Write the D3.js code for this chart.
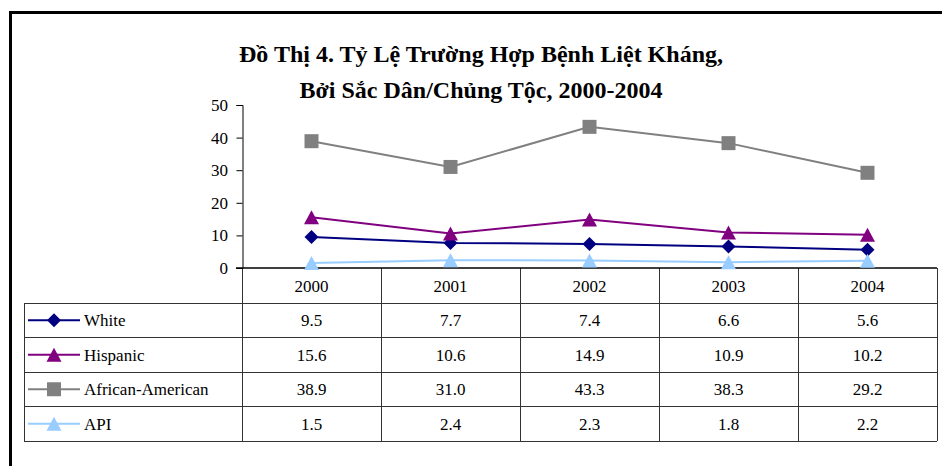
<!DOCTYPE html>
<html>
<head>
<meta charset="utf-8">
<script src="https://cdn.jsdelivr.net/npm/d3@7"></script>
</head>
<body style="margin:0; background:#fff">
<svg id="fig" width="942" height="466"></svg>
<script>
var years = ["2000", "2001", "2002", "2003", "2004"];
var white = [9.5, 7.7, 7.4, 6.6, 5.6];
var hispanic = [15.6, 10.6, 14.9, 10.9, 10.2];
var african = [38.9, 31.0, 43.3, 38.3, 29.2];
var api = [1.5, 2.4, 2.3, 1.8, 2.2];
var yTicks = [0, 10, 20, 30, 40, 50];
var titleLines = ["Đồ Thị 4. Tỷ Lệ Trường Hợp Bệnh Liệt Kháng,", "Bởi Sắc Dân/Chủng Tộc, 2000-2004"];

var series = [
  { name: "White", values: white, color: "#000080", shape: "diamond" },
  { name: "Hispanic", values: hispanic, color: "#800080", shape: "triangle" },
  { name: "African-American", values: african, color: "#808080", shape: "square" },
  { name: "API", values: api, color: "#99ccff", shape: "triangle" }
];

var svg = d3.select("#fig");

// every label goes through here so it gets the serif face
function label(sel, size, weight) {
  return sel.attr("font-family", "Liberation Serif")
    .style("font-family", function() { return "'Liberation Serif'"; })
    .attr("font-size", size).attr("font-weight", weight || "normal")
    .attr("fill", "#000");
}

// marker shapes, roughly like the spreadsheet ones
var shapes = {
  diamond: { draw: function(c) { c.moveTo(0, -7); c.lineTo(7, 0); c.lineTo(0, 7); c.lineTo(-7, 0); c.closePath(); } },
  triangle: { draw: function(c) { c.moveTo(0, -7); c.lineTo(7.5, 7); c.lineTo(-7.5, 7); c.closePath(); } },
  square: { draw: function(c) { c.rect(-7, -7, 14, 14); } }
};

// outer frame (runs off right and bottom)
svg.append("path")
  .attr("d", "M10.5,466 V12.5 H942")
  .attr("fill", "none").attr("stroke", "#000").attr("stroke-width", 3);

// title
label(svg.selectAll(".title").data(titleLines).enter().append("text"), 24, "bold")
  .attr("x", 481).attr("y", function(d, i) { return 62 + i * 36; })
  .attr("text-anchor", "middle")
  .text(function(d) { return d; });

var x = d3.scaleBand().domain(years).range([242, 937]).padding(0);
var y = d3.scaleLinear().domain([0, 50]).range([268, 105]);
var cx = function(d) { return x(d) + x.bandwidth() / 2; };

// y axis: ticks only, labels drawn by hand below
var yAxis = svg.append("g").attr("transform", "translate(242.5,0)")
  .call(d3.axisLeft(y).tickValues(yTicks).tickSize(6).tickFormat(""));
yAxis.select(".domain").attr("stroke", "#000");
yAxis.selectAll("text").remove();
label(svg.selectAll(".ytick").data(yTicks).enter().append("text"), 17)
  .attr("x", 228).attr("y", function(d) { return y(d) + 6; })
  .attr("text-anchor", "end")
  .text(function(d) { return d; });

// data table
var tableLeft = 24, rowH = 34.5, headTop = 268, headBot = 303;
var rowsTop = headBot;
var tableBottom = rowsTop + series.length * rowH;

var grid = svg.append("g").attr("stroke", "#333").attr("stroke-width", 1).attr("shape-rendering", "crispEdges");
// vertical lines at column edges
years.forEach(function(yr) {
  grid.append("line").attr("x1", x(yr)).attr("x2", x(yr)).attr("y1", headTop).attr("y2", tableBottom);
});
grid.append("line").attr("x1", 937).attr("x2", 937).attr("y1", headTop).attr("y2", tableBottom);
grid.append("line").attr("x1", tableLeft).attr("x2", tableLeft).attr("y1", rowsTop).attr("y2", tableBottom);
// horizontal lines
for (var i = 0; i <= series.length; i++) {
  grid.append("line").attr("x1", tableLeft).attr("x2", 937)
    .attr("y1", rowsTop + i * rowH).attr("y2", rowsTop + i * rowH);
}
// x axis line
svg.append("line").attr("x1", 236).attr("x2", 937).attr("y1", y(0)).attr("y2", y(0))
  .attr("stroke", "#000").attr("stroke-width", 1.5);

// year labels
label(svg.selectAll(".year").data(years).enter().append("text"), 17)
  .attr("x", cx).attr("y", 292)
  .attr("text-anchor", "middle")
  .text(function(d) { return d; });

// rows: legend key + values
series.forEach(function(s, i) {
  var midY = rowsTop + i * rowH + rowH / 2;
  svg.append("line").attr("x1", 28).attr("x2", 80).attr("y1", midY).attr("y2", midY)
    .attr("stroke", s.color).attr("stroke-width", 2);
  svg.append("path").attr("d", d3.symbol().type(shapes[s.shape])())
    .attr("transform", "translate(54," + midY + ")").attr("fill", s.color);
  label(svg.append("text"), 17).attr("x", 84).attr("y", midY + 6).text(s.name);
  label(svg.selectAll(".v" + i).data(s.values).enter().append("text"), 17)
    .attr("x", function(d, j) { return cx(years[j]); }).attr("y", midY + 6)
    .attr("text-anchor", "middle")
    .text(function(d) { return d.toFixed(1); });
});

// lines and markers
var line = d3.line().x(function(d, j) { return cx(years[j]); }).y(function(d) { return y(d); });
series.forEach(function(s) {
  svg.append("path").datum(s.values).attr("d", line)
    .attr("fill", "none").attr("stroke", s.color).attr("stroke-width", 2);
});
series.forEach(function(s) {
  svg.selectAll(null).data(s.values).enter().append("path")
    .attr("d", d3.symbol().type(shapes[s.shape])())
    .attr("transform", function(d, j) { return "translate(" + cx(years[j]) + "," + y(d) + ")"; })
    .attr("fill", s.color);
});
</script>
</body>
</html>
